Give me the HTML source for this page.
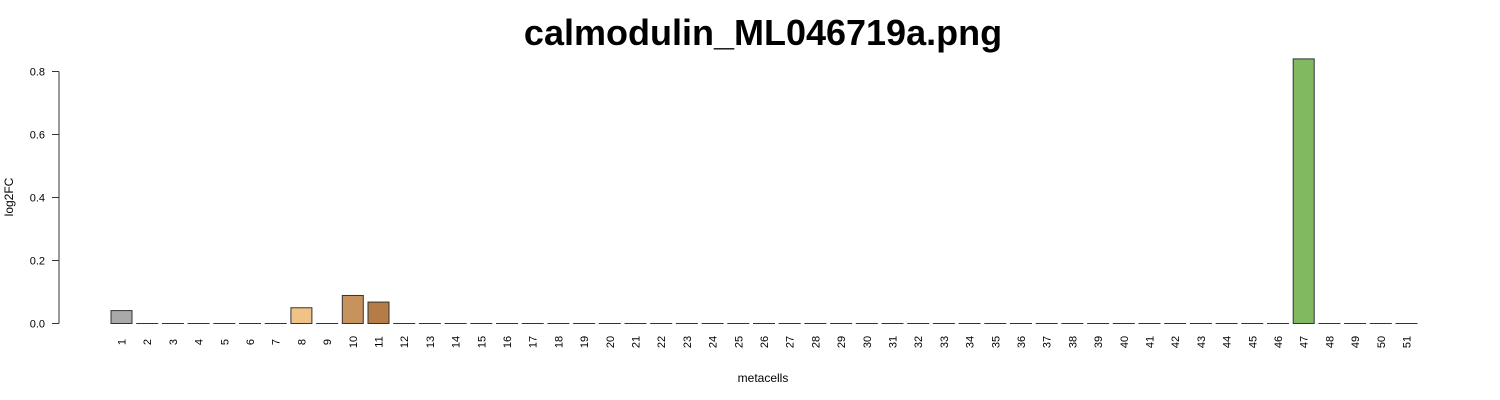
<!DOCTYPE html>
<html><head><meta charset="utf-8"><style>
body{margin:0;background:#fff;}
svg{display:block;font-family:"Liberation Sans",sans-serif;}
</style></head><body>
<svg id="chart" width="1500" height="400">
<text x="763" y="45" text-anchor="middle" font-size="36" font-weight="bold">calmodulin_ML046719a.png</text>
<text x="13" y="197" text-anchor="middle" font-size="12" transform="rotate(-90 13 197)">log2FC</text>
<text x="763" y="382" text-anchor="middle" font-size="12">metacells</text>
<g id="yaxis"></g>
<g id="bars"></g>
<g id="xlabels"></g>
</svg>
<script>
const categories = Array.from({length:51},(_,i)=>String(i+1));
const values = [0.041,0,0,0,0,0,0,0.05,0,0.089,0.068,0,0,0,0,0,0,0,0,0,0,0,0,0,0,0,0,0,0,0,0,0,0,0,0,0,0,0,0,0,0,0,0,0,0,0,0.84,0,0,0,0];
const colors = {1:"#a9a9a9",8:"#f0c287",10:"#c8925c",11:"#b67c48",47:"#80b95f"};
const yTicks = [0,0.2,0.4,0.6,0.8];
const yTickLabels = ["0.0","0.2","0.4","0.6","0.8"];
const NS="http://www.w3.org/2000/svg";
function y(v){return 323.5-v*315;}
function xc(i){return 121.5+i*25.7;}
const ya=document.getElementById('yaxis');
let l=document.createElementNS(NS,'line');
l.setAttribute('x1',59);l.setAttribute('x2',59);l.setAttribute('y1',y(0));l.setAttribute('y2',y(0.8));
l.setAttribute('stroke','#333');


ya.appendChild(l);
yTicks.forEach((t,i)=>{
 const tk=document.createElementNS(NS,'line');
 tk.setAttribute('x1',52);tk.setAttribute('x2',59);tk.setAttribute('y1',y(t));tk.setAttribute('y2',y(t));tk.setAttribute('stroke','#333');
 
 
 ya.appendChild(tk);
 const tx=document.createElementNS(NS,'text');
 tx.setAttribute('x',45);tx.setAttribute('y',y(t)+4);tx.setAttribute('text-anchor','end');tx.setAttribute('font-size','11');
 tx.textContent=yTickLabels[i];
 
 
 ya.appendChild(tx);
});
const bg=document.getElementById('bars'), xl=document.getElementById('xlabels');
values.forEach((v,i)=>{
 const r=document.createElementNS(NS,'rect');
 const top=y(v);
 r.setAttribute('x',xc(i)-10.5);r.setAttribute('width',21);
 r.setAttribute('y',top);r.setAttribute('height',Math.max(y(0)-top,0.01));
 r.setAttribute('fill',colors[i+1]||'#cccccc');r.setAttribute('stroke','#333');r.setAttribute('stroke-width','1');
 
 
 bg.appendChild(r);
 const tx=document.createElementNS(NS,'text');
 const cx=xc(i)+4, cy=342;
 tx.setAttribute('x',cx);tx.setAttribute('y',cy);tx.setAttribute('text-anchor','middle');tx.setAttribute('font-size','11');
 tx.setAttribute('transform','rotate(-90 '+cx+' '+cy+')');
 tx.textContent=categories[i];
 
 
 xl.appendChild(tx);
});
</script>
</body></html>
